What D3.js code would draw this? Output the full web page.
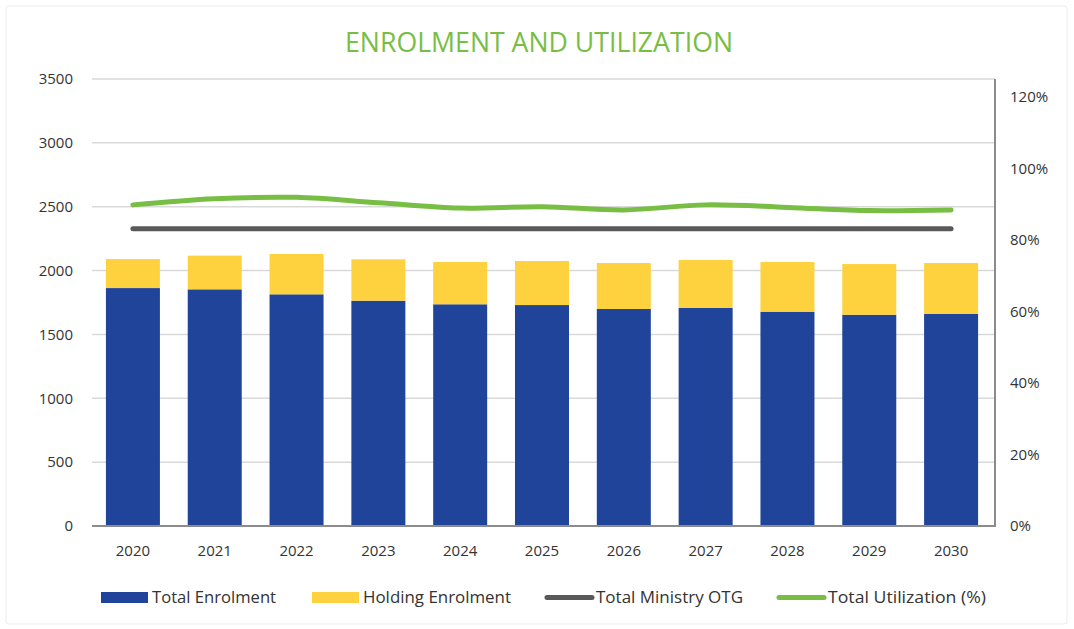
<!DOCTYPE html>
<html><head><meta charset="utf-8">
<script src="https://cdn.jsdelivr.net/npm/d3@7"></script>
<style>
body{margin:0;background:#fff;}
text{font-family:"Open Sans",Lato,sans-serif;}
</style></head>
<body><svg id="c" width="1074" height="629"></svg>
<script>
const years = ["2020","2021","2022","2023","2024","2025","2026","2027","2028","2029","2030"];
const totalEnrolment = [1863,1853,1814,1764,1736,1730,1699,1707,1678,1654,1660];
const holdingEnrolment = [227,264,316,324,331,345,360,376,389,397,399];
const ministryOTG = [2328,2328,2328,2328,2328,2328,2328,2328,2328,2328,2328];
const utilization = [0.898,0.915,0.919,0.904,0.889,0.893,0.884,0.898,0.891,0.882,0.884];
const leftTicks = [0,500,1000,1500,2000,2500,3000,3500];
const rightTicks = [0,0.2,0.4,0.6,0.8,1.0,1.2];
const legendLabels = ["Total Enrolment","Holding Enrolment","Total Ministry OTG","Total Utilization (%)"];

const colors = {blue:"#1F4499", yellow:"#FDD23E", gray:"#595959", green:"#78BE44"};
const svg = d3.select("#c");
const m = {left:92, right:995, top:79, bottom:526};

svg.append("rect").attr("x",6).attr("y",6).attr("width",1061).attr("height",618)
  .attr("fill","#fff").attr("stroke","#ececec").attr("stroke-width",1).attr("rx",3);

const x = d3.scaleBand().domain(years).range([m.left, m.left+900]).paddingInner(0.34).paddingOuter(0.17);
const yL = d3.scaleLinear().domain([0,3500]).range([m.bottom, m.top]);
const yR = d3.scaleLinear().domain([0,1.25]).range([m.bottom, m.top]);

// gridlines
svg.append("g").selectAll("line").data(leftTicks.slice(1)).join("line")
  .attr("x1",m.left).attr("x2",m.right).attr("y1",d=>yL(d)).attr("y2",d=>yL(d))
  .attr("stroke","#d9d9d9").attr("stroke-width",1.5);

// left axis labels
const axL = svg.append("g").attr("transform",`translate(${m.left},0)`)
  .call(d3.axisLeft(yL).tickValues(leftTicks).tickSize(0).tickPadding(19).tickFormat(d3.format("d")));
axL.select(".domain").remove();
axL.selectAll("text").attr("font-size",15).attr("fill","#333").attr("font-family","Lato, 'Open Sans', sans-serif");

// right axis
const axR = svg.append("g").attr("transform",`translate(${m.right},0)`)
  .call(d3.axisRight(yR).tickValues(rightTicks).tickSize(0).tickPadding(15).tickFormat(d3.format(".0%")));
axR.select(".domain").remove();
axR.selectAll("text").attr("font-size",15).attr("fill","#333").attr("font-family","Lato, 'Open Sans', sans-serif");

// bars
const stackData = years.map((y,i)=>({year:y, total:totalEnrolment[i], holding:holdingEnrolment[i]}));
const series = d3.stack().keys(["total","holding"])(stackData);
const barColors = [colors.blue, colors.yellow];
svg.append("g").selectAll("g").data(series).join("g").attr("fill",(d,i)=>barColors[i])
  .selectAll("rect").data(d=>d).join("rect")
  .attr("x",d=>x(d.data.year)).attr("width",x.bandwidth())
  .attr("y",d=>yL(d[1])).attr("height",d=>yL(d[0])-yL(d[1]));

// axis lines
svg.append("line").attr("x1",m.left).attr("x2",m.right).attr("y1",m.bottom).attr("y2",m.bottom)
  .attr("stroke","#8c8c8c").attr("stroke-width",2);
svg.append("line").attr("x1",m.right).attr("x2",m.right).attr("y1",m.top).attr("y2",m.bottom+1)
  .attr("stroke","#8c8c8c").attr("stroke-width",2);

// x labels
const axB = svg.append("g").attr("transform",`translate(0,${m.bottom})`)
  .call(d3.axisBottom(x).tickSize(0).tickPadding(19));
axB.select(".domain").remove();
axB.selectAll("text").attr("font-size",15).attr("fill","#333").attr("font-family","Lato, 'Open Sans', sans-serif");

const cx = d=>x(d)+x.bandwidth()/2;
// OTG line
svg.append("path").datum(years.map((y,i)=>[cx(y), yL(ministryOTG[i])]))
  .attr("d", d3.line()).attr("fill","none").attr("stroke",colors.gray)
  .attr("stroke-width",5).attr("stroke-linecap","round");
// utilization line
svg.append("path").datum(years.map((y,i)=>[cx(y), yR(utilization[i])]))
  .attr("d", d3.line().curve(d3.curveCatmullRom.alpha(0.5))).attr("fill","none").attr("stroke",colors.green)
  .attr("stroke-width",5).attr("stroke-linecap","round");

// title
svg.append("text").attr("x",539).attr("y",52).attr("text-anchor","middle")
  .attr("font-size",27).attr("fill",colors.green)
  .attr("font-family","'Liberation Sans Narrow','Open Sans',sans-serif")
  .attr("textLength",388).attr("lengthAdjust","spacingAndGlyphs")
  .text("ENROLMENT AND UTILIZATION");

// legend
const lg = svg.append("g").attr("font-family","'Liberation Sans Narrow','Open Sans',sans-serif");
const legItems = [
  {x:101, type:"rect", color:colors.blue, tw:124},
  {x:312, type:"rect", color:colors.yellow, tw:148},
  {x:545, type:"line", color:colors.gray, tw:147},
  {x:777, type:"line", color:colors.green, tw:158}
];
legItems.forEach((it,i)=>{
  if(it.type==="rect"){
    lg.append("rect").attr("x",it.x).attr("y",592).attr("width",47).attr("height",11).attr("fill",it.color);
  } else {
    lg.append("line").attr("x1",it.x+2).attr("x2",it.x+47).attr("y1",597.5).attr("y2",597.5)
      .attr("stroke",it.color).attr("stroke-width",5).attr("stroke-linecap","round");
  }
  lg.append("text").attr("x",it.x+51).attr("y",603).attr("font-size",17).attr("fill","#333")
    .attr("textLength",it.tw).attr("lengthAdjust","spacingAndGlyphs").text(legendLabels[i]);
});
</script></body></html>
